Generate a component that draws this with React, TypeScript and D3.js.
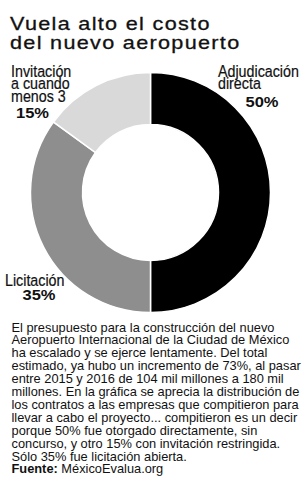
import React from "react";
import * as d3 from "d3";

const categories = ["Adjudicación directa", "Licitación", "Invitación a cuando menos 3"];
const values = [50, 35, 15];
const colors = ["#000000", "#8e8e8e", "#d9d9d9"];
const titleLines = ["Vuela alto el costo", "del nuevo aeropuerto"];
const bodyLines = [
  "El presupuesto para la construcción del nuevo",
  "Aeropuerto Internacional de la Ciudad de México",
  "ha escalado y se ejerce lentamente. Del total",
  "estimado, ya hubo un incremento de 73%, al pasar",
  "entre 2015 y 2016 de 104 mil millones a 180 mil",
  "millones. En la gráfica se aprecia la distribución de",
  "los contratos a las empresas que compitieron para",
  "llevar a cabo el proyecto... compitieron es un decir",
  "porque 50% fue otorgado directamente, sin",
  "concurso, y otro 15% con invitación restringida.",
  "Sólo 35% fue licitación abierta.",
];
const sourceLabel = "Fuente:";
const sourceText = " MéxicoEvalua.org";

const W = 308;
const H = 500;
const cx = 150.5;
const cy = 192.5;
const outerR = 120;
const innerR = 68;
const font = "'Liberation Sans', Arial, Helvetica, sans-serif";

function T(props: {
  x: number;
  y: number;
  sx?: number;
  size: number;
  bold?: boolean;
  ls?: number;
  stroke?: number;
  children: React.ReactNode;
}) {
  const { x, y, sx = 1, size, bold, ls = 0, stroke = 0, children } = props;
  return (
    <text
      transform={`translate(${x},${y}) scale(${sx},1)`}
      fontSize={size}
      fontWeight={bold ? "bold" : "normal"}
      letterSpacing={ls}
      fill="#111"
      stroke={stroke ? "#111" : "none"}
      strokeWidth={stroke}
    >
      {children}
    </text>
  );
}

export default function App() {
  const pie = d3.pie<number>().sort(null).value((d) => d);
  const arcs = pie(values);
  const arc = d3.arc<d3.PieArcDatum<number>>().innerRadius(innerR).outerRadius(outerR);

  const labelSize = 16.8;
  const labelSx = 0.85;
  const pctSize = 14;
  const pctSx = 1.18;

  return (
    <svg
      width={W}
      height={H}
      style={{ position: "absolute", left: 0, top: 0, background: "#fff" }}
      fontFamily={font}
    >
      <rect width={W} height={H} fill="#fff" />
      {titleLines.map((t, i) => (
        <T key={i} x={10} y={29.5 + i * 19.8} size={18} sx={1.2} ls={1.1} stroke={0.3}>
          {t}
        </T>
      ))}
      <g transform={`translate(${cx},${cy})`}>
        {arcs.map((a, i) => (
          <path key={categories[i]} d={arc(a) || ""} fill={colors[i]} stroke="#fff" strokeWidth={1.5} />
        ))}
      </g>
      {/* Invitación label */}
      <T x={11} y={76.7} size={labelSize} sx={labelSx} stroke={0.2}>Invitación</T>
      <T x={11} y={89.2} size={labelSize} sx={labelSx} stroke={0.2}>a cuando</T>
      <T x={11} y={101.6} size={labelSize} sx={labelSx} stroke={0.2}>menos 3</T>
      <T x={16} y={117.5} size={pctSize} sx={pctSx} bold>{values[2]}%</T>
      {/* Adjudicación label */}
      <T x={218} y={76.7} size={labelSize} sx={labelSx} stroke={0.2}>Adjudicación</T>
      <T x={218} y={89.2} size={labelSize} sx={labelSx} stroke={0.2}>directa</T>
      <T x={245.5} y={106.8} size={pctSize} sx={pctSx} bold>{values[0]}%</T>
      {/* Licitación label */}
      <T x={5} y={285.7} size={labelSize} sx={labelSx} stroke={0.2}>Licitación</T>
      <T x={22.5} y={300.2} size={pctSize} sx={pctSx} bold>{values[1]}%</T>
      {bodyLines.map((t, i) => (
        <T key={i} x={11.5} y={331.5 + i * 12.9} size={12} sx={1.07}>
          {t}
        </T>
      ))}
      <text
        transform={`translate(11.5,${331.5 + bodyLines.length * 12.9}) scale(1.07,1)`}
        fontSize={12}
        fill="#111"
      >
        <tspan fontWeight="bold">{sourceLabel}</tspan>
        <tspan>{sourceText}</tspan>
      </text>
    </svg>
  );
}
